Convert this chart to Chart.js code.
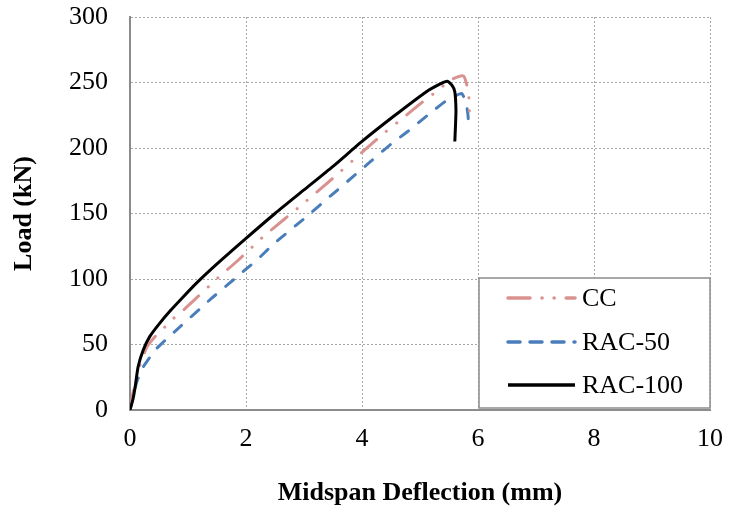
<!DOCTYPE html>
<html><head><meta charset="utf-8">
<script src="https://cdn.jsdelivr.net/npm/chart.js@4.4.1/dist/chart.umd.min.js"></script>
<style>html,body{margin:0;padding:0;background:#fff}</style>
</head><body>
<canvas id="c" width="730" height="517"></canvas>
<script>
const xTicks = [0, 2, 4, 6, 8, 10];
const yTicks = [0, 50, 100, 150, 200, 250, 300];
const seriesNames = ['CC', 'RAC-50', 'RAC-100'];

const ccDefl = [0, 0.06, 0.15, 0.29, 0.43, 0.55, 0.7, 0.89, 1.06, 1.35, 1.52, 1.87, 2.17, 2.33, 3.0, 3.5, 4.0, 4.37, 4.68, 5.04, 5.22, 5.55, 5.75, 5.82, 5.85, 5.85];
const ccLoad = [0, 15, 31, 48, 56, 61, 68, 75, 82, 94, 101, 114.5, 127, 133.6, 158, 177, 196.7, 211, 222, 235, 241, 252.4, 255, 245.5, 235, 222];

const rac50Defl = [0, 0.06, 0.12, 0.17, 0.23, 0.29, 0.37, 0.46, 0.6, 0.8, 1.0, 1.2, 1.4, 1.6, 1.8, 2.0, 2.2, 2.41, 2.59, 3.0, 3.5, 4.0, 4.17, 4.5, 4.8, 5.13, 5.45, 5.62, 5.72, 5.79, 5.83, 5.83];
const rac50Load = [0, 12, 22, 27, 33, 37, 42, 47, 53, 61, 69, 77, 85, 92.5, 100, 107.5, 115, 124, 131, 146, 165, 184, 190.5, 203, 213, 225, 236, 240, 241.6, 235, 224, 215];

const rac100Defl = [0, 0.05, 0.09, 0.14, 0.23, 0.34, 0.49, 0.69, 0.9, 1.15, 1.5, 2.0, 2.5, 3.0, 3.5, 4.0, 4.54, 5.11, 5.35, 5.47, 5.55, 5.6, 5.62, 5.61, 5.6];
const rac100Load = [0, 8, 18, 33, 46, 56, 65, 75.5, 85.5, 97, 111.5, 131, 150, 168, 186, 205, 224, 243, 249, 251, 248, 243, 229, 215, 205];

function pts(xs, ys) { return xs.map((x, i) => ({ x: x, y: ys[i] })); }

const SERIF = '"Liberation Serif", "Times New Roman", serif';

const legendPlugin = {
  id: 'boxLegend',
  afterDraw(chart) {
    const ctx = chart.ctx;
    const xs = chart.scales.x;
    const left = xs.getPixelForValue(6) + 1;
    const right = chart.chartArea.right;
    const top = 278, bottom = 408;
    ctx.save();
    ctx.fillStyle = '#ffffff';
    ctx.fillRect(left, top, right - left, bottom - top);
    ctx.strokeStyle = '#8c8c8c';
    ctx.lineWidth = 1.5;
    ctx.setLineDash([]);
    ctx.strokeRect(left, top, right - left, bottom - top);
    const rowsY = [298, 342, 385];
    [0, 1, 2].forEach((di, r) => {
      const ds = chart.data.datasets[di];
      const y = rowsY[r];
      ctx.beginPath();
      ctx.strokeStyle = ds.borderColor;
      ctx.lineWidth = ds.borderWidth + 0.5;
      ctx.lineCap = ds.borderCapStyle || 'butt';
      ctx.setLineDash(ds.legendDash || []);
      ctx.moveTo(left + 29, y);
      ctx.lineTo(left + 96, y);
      ctx.stroke();
      ctx.setLineDash([]);
      ctx.fillStyle = '#000';
      ctx.font = '26px ' + SERIF;
      ctx.textBaseline = 'middle';
      ctx.textAlign = 'left';
      ctx.fillText(ds.label, left + 103, y + 1);
    });
    ctx.restore();
  }
};

new Chart(document.getElementById('c'), {
  type: 'scatter',
  data: {
    datasets: [
      { label: seriesNames[0], data: pts(ccDefl, ccLoad), showLine: true, borderColor: '#d9928f', borderWidth: 3,
        borderDash: [20, 13, 0.1, 13, 0.1, 13], borderCapStyle: 'round', legendDash: [22, 12, 0.1, 12, 0.1, 12],
        pointRadius: 0, tension: 0.2, order: 1 },
      { label: seriesNames[1], data: pts(rac50Defl, rac50Load), showLine: true, borderColor: '#4a7ebb', borderWidth: 3,
        borderDash: [10, 13], borderCapStyle: 'round', legendDash: [12, 10],
        pointRadius: 0, tension: 0.2, order: 2 },
      { label: seriesNames[2], data: pts(rac100Defl, rac100Load), showLine: true, borderColor: '#000000', borderWidth: 3,
        borderDash: [], legendDash: [],
        pointRadius: 0, tension: 0.2, order: 0 }
    ]
  },
  options: {
    responsive: false,
    animation: false,
    devicePixelRatio: 1,
    layout: { padding: { top: 17, right: 20, left: 0, bottom: 0 } },
    plugins: { legend: { display: false }, tooltip: { enabled: false } },
    scales: {
      x: {
        type: 'linear', min: 0, max: 10,
        afterBuildTicks: s => { s.ticks = xTicks.map(v => ({ value: v })); },
        afterFit: s => { s.height = 107; s.paddingLeft = 0; s.paddingRight = 0; },
        ticks: { font: { family: SERIF, size: 26 }, color: '#000', padding: 14 },
        grid: { color: '#a6a6a6', lineWidth: 1, drawTicks: false },
        border: { display: true, color: '#8c8c8c', width: 2, dash: [2, 2] },
        title: { display: true, text: 'Midspan Deflection (mm)', color: '#000',
          font: { family: SERIF, size: 26, weight: 'bold' }, padding: { top: 4, bottom: 8 } }
      },
      y: {
        type: 'linear', min: 0, max: 300,
        afterBuildTicks: s => { s.ticks = yTicks.map(v => ({ value: v })); },
        afterFit: s => { s.width = 130; s.paddingTop = 0; s.paddingBottom = 0; },
        ticks: { font: { family: SERIF, size: 26 }, color: '#000', padding: 22 },
        grid: { color: '#a6a6a6', lineWidth: 1, drawTicks: false },
        border: { display: true, color: '#8c8c8c', width: 2, dash: [2, 2] },
        title: { display: true, text: 'Load (kN)', color: '#000',
          font: { family: SERIF, size: 26, weight: 'bold' }, padding: { top: 9, bottom: 0 } }
      }
    }
  },
  plugins: [legendPlugin]
});
</script>
</body></html>
